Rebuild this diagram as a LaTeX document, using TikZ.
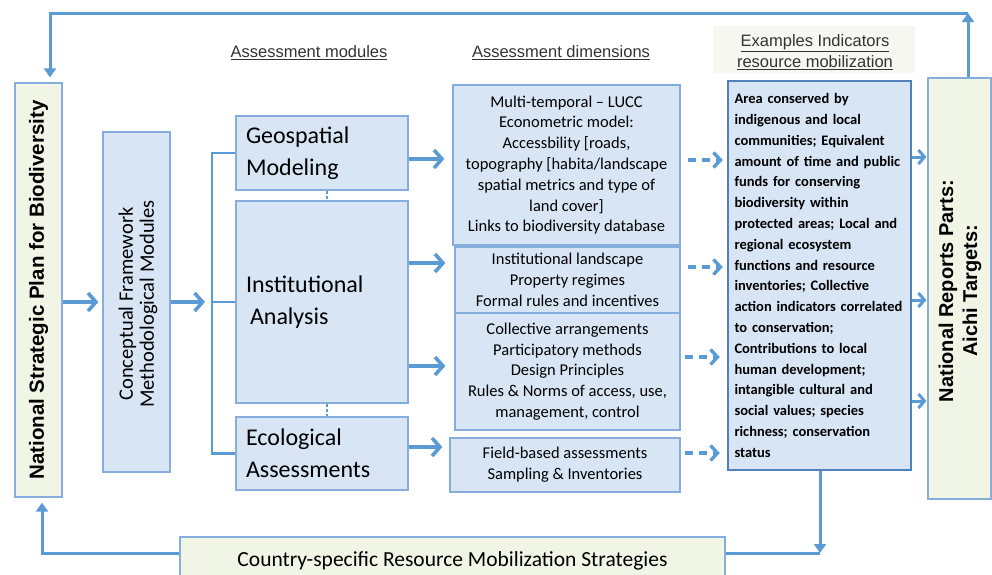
\documentclass[tikz,border=0pt]{standalone}
\usepackage{fontspec}
\setmainfont{Carlito}
\newfontfamily\arialf{Liberation Sans}
\usetikzlibrary{arrows.meta}
\definecolor{bfill}{HTML}{D7E5F5}
\definecolor{bdraw}{HTML}{86AEDD}
\definecolor{arrc}{HTML}{5B9BD5}
\definecolor{gfill}{HTML}{F1F5E6}
\definecolor{indc}{HTML}{4F81BD}
\definecolor{hdrbg}{HTML}{F6F7F1}
\begin{document}
\begin{tikzpicture}[x=1pt,y=-1pt,
 box/.style={draw=bdraw, fill=bfill, line width=1.2pt, inner sep=0pt},
 gbox/.style={draw=bdraw, fill=gfill, line width=1.2pt, inner sep=0pt},
 arr/.style={draw=arrc, line width=3.6pt, -{Straight Barb[length=8pt,width=18pt]}},
 darr/.style={draw=arrc, line width=3.4pt, dash pattern=on 8pt off 6pt, -{Straight Barb[length=7pt,width=15pt]}},
 sarr/.style={draw=arrc, line width=3pt, -{Straight Barb[length=6pt,width=14pt]}},
 flow/.style={draw=arrc, line width=3pt, -{Triangle[length=9pt,width=12pt]}},
 flowline/.style={draw=arrc, line width=3pt},
 brk/.style={draw=arrc, line width=2.5pt},
 link/.style={draw=arrc, line width=1.2pt, dash pattern=on 3pt off 2pt},
 hdr/.style={font=\arialf\fontsize{16.5}{21}\selectfont, text=black!80, align=center, inner sep=0pt},
 modtxt/.style={font=\fontsize{24}{32}\selectfont, text width=152pt, align=left},
 dimtxt/.style={font=\fontsize{16.5}{20.8}\selectfont, align=center},
 sidetxt/.style={font=\arialf\bfseries\fontsize{20.5}{24}\selectfont, align=center, rotate=90, inner sep=0pt}
]
\useasboundingbox (0,0) rectangle (992,574);

% headers
\node[fill=hdrbg, minimum width=202pt, minimum height=47pt, inner sep=0pt] (hbg) at (814,49) {};
\node[hdr] (h1) at (309,53) {\underline{Assessment modules}};
\node[hdr] (h2) at (561,53) {\underline{Assessment dimensions}};
\node[hdr] (h3) at (815,52) {\underline{Examples Indicators}\\\underline{resource mobilization}};

% side boxes
\node[gbox, minimum width=47pt, minimum height=414pt] (ns) at (38.5,290) {};
\node[sidetxt] (nsl) at (ns.center) {National Strategic Plan for Biodiversity};
\node[gbox, minimum width=63pt, minimum height=421pt] (nr) at (959.5,288.5) {};
\node[sidetxt, font=\arialf\bfseries\fontsize{20}{24}\selectfont] (nrl) at (960,291) {National Reports Parts:\\Aichi Targets:};
\node[gbox, minimum width=545pt, minimum height=48pt, font=\fontsize{21.5}{24}\selectfont] (cs) at (452.5,561) {Country-specific Resource Mobilization Strategies};

% conceptual framework
\node[box, minimum width=67pt, minimum height=340pt] (cf) at (136.5,302) {};
\node[rotate=90, align=center, font=\fontsize{20.5}{21}\selectfont, inner sep=0pt] (cfl) at (138,304) {Conceptual Framework\\Methodological Modules};

% modules
\node[box, minimum width=172pt, minimum height=74pt, modtxt] (geo) at (322,153) {Geospatial\\Modeling};
\node[box, minimum width=172pt, minimum height=202pt, modtxt] (inst) at (322,302) {Institutional\\\hspace*{4pt}Analysis};
\node[box, minimum width=172pt, minimum height=73pt, modtxt] (eco) at (322,453.5) {Ecological\\Assessments};

% dimensions
\node[box, minimum width=227pt, minimum height=160pt, dimtxt] (d1) at (566.5,165) {Multi-temporal – LUCC\\Econometric model:\\Accessbility [roads,\\topography [habita/landscape\\spatial metrics and type of\\land cover]\\Links to biodiversity database};
\node[box, minimum width=225pt, minimum height=66pt, dimtxt] (d2) at (567.5,280) {Institutional landscape\\Property regimes\\Formal rules and incentives};
\node[box, minimum width=225pt, minimum height=117pt, dimtxt] (d3) at (567.5,371.5) {Collective arrangements\\Participatory methods\\Design Principles\\Rules \& Norms of access, use,\\management, control};
\node[box, minimum width=230pt, minimum height=54pt, dimtxt] (d4) at (565,465) {Field-based assessments\\Sampling \& Inventories};

% indicators
\node[draw=indc, fill=bfill, line width=2.4pt, minimum width=183pt, minimum height=389pt, inner sep=0pt, text width=170pt, align=left, font=\bfseries\fontsize{14.5}{20.8}\selectfont] (ind) at (819.5,275.5) {Area conserved by\\indigenous and local\\communities; Equivalent\\amount of time and public\\funds for conserving\\biodiversity within\\protected areas; Local and\\regional ecosystem\\functions and resource\\inventories; Collective\\action indicators correlated\\to conservation;\\Contributions to local\\human development;\\intangible cultural and\\social values; species\\richness; conservation\\status};

% connectors left part
\coordinate (bk) at (212,302);
\draw[arr, shorten >=4pt] (ns.east |- cf.west) -- (cf.west);
\draw[arr, shorten >=1pt] (cf.east) -- ([xshift=-6pt]bk);
\draw[brk] (geo.west) -- (geo.west -| bk) -- (eco.west -| bk) -- (eco.west);
\draw[brk] (bk) -- (inst.west);
\draw[link] ([xshift=5pt]geo.south) -- ([xshift=5pt]inst.north);
\draw[link] ([xshift=5pt]inst.south) -- ([xshift=5pt]eco.north);

% modules -> dimensions
\draw[arr, shorten >=8pt] (geo.east |- 0,159) -- (d1.west |- 0,159);
\draw[arr, shorten >=9pt] (inst.east |- 0,263) -- (d2.west |- 0,263);
\draw[arr, shorten >=9pt] (inst.east |- 0,366) -- (d3.west |- 0,366);
\draw[arr, shorten >=7pt] (eco.east |- 0,447) -- (d4.west |- 0,447);

% dimensions -> indicators
\draw[darr, shorten <=7pt, shorten >=4pt] (d1.east |- 0,160) -- (ind.west |- 0,160);
\draw[darr, shorten <=7pt, shorten >=4pt] (d2.east |- 0,267) -- (ind.west |- 0,267);
\draw[darr, shorten <=4pt, shorten >=7pt] (d3.east |- 0,357) -- (ind.west |- 0,357);
\draw[darr, shorten <=4pt, shorten >=7pt] (d4.east |- 0,453) -- (ind.west |- 0,453);

% indicators -> national reports
\draw[sarr, shorten >=1pt] (ind.east |- 0,157) -- (nr.west |- 0,157);
\draw[sarr, shorten >=1pt] (ind.east |- 0,300) -- (nr.west |- 0,300);
\draw[sarr, shorten >=1pt] (ind.east |- 0,401) -- (nr.west |- 0,401);

% top loop
\coordinate (tr) at (968,13);
\coordinate (tl) at (50,13);
\draw[flow] (nr.north -| tr) -- (tr);
\draw[flow, shorten >=5pt] (tr) -- (tl) -- (tl |- ns.north);

% bottom loop
\coordinate (br) at (820,553);
\coordinate (bl) at (42,553);
\draw[flow] (ind.south -| br) -- (br);
\draw[flowline] (cs.east |- br) -- (br);
\draw[flow, shorten >=5pt] (cs.west |- bl) -- (bl) -- (bl |- ns.south);
\end{tikzpicture}
\end{document}
